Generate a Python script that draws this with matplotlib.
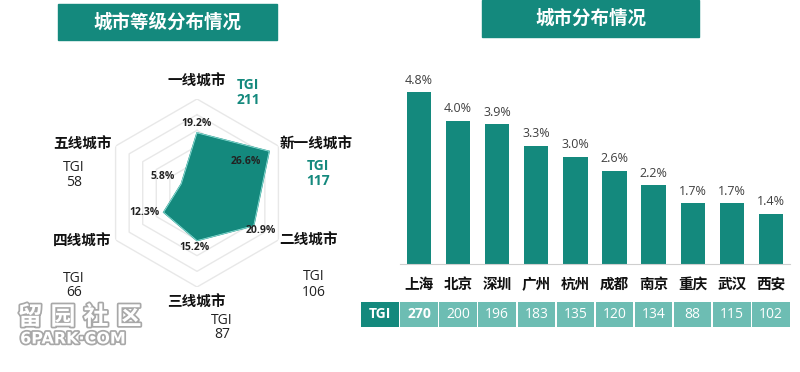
import numpy as np
import matplotlib
matplotlib.use("Agg")
from matplotlib import pyplot as plt
from matplotlib.patches import Rectangle
import matplotlib.patheffects as pe

plt.rcParams['font.family'] = ['Open Sans', 'Noto Sans CJK SC', 'DejaVu Sans']

# radar data: city tiers, share (%), TGI
tiers = ["一线城市", "新一线城市", "二线城市", "三线城市", "四线城市", "五线城市"]
tierShare = [19.2, 26.6, 20.9, 15.2, 12.3, 5.8]
tierTGI = [211, 117, 106, 87, 66, 58]

# bar data: top cities, share (%), TGI
cities = ["上海", "北京", "深圳", "广州", "杭州", "成都", "南京", "重庆", "武汉", "西安"]
cityShare = [4.8, 4.0, 3.9, 3.3, 3.0, 2.6, 2.2, 1.7, 1.7, 1.4]
cityTGI = [270, 200, 196, 183, 135, 120, 134, 88, 115, 102]

teal = "#14897d"
cellTeal = "#6dbdb3"
W, H = 800, 372

fig = plt.figure(figsize=(8, 3.72), dpi=100)

def fx(x):
    return x / W

def fy(y):
    return 1 - y / H

def banner(x0, x1, y0, y1, text):
    fig.patches.append(Rectangle((fx(x0), fy(y1)), fx(x1 - x0), (y1 - y0) / H,
                                 transform=fig.transFigure, color=teal, zorder=0))
    fig.text(fx((x0 + x1) / 2), fy((y0 + y1) / 2), text, color="white",
             fontsize=13.3, fontweight="bold", ha="center", va="center")

banner(58, 277, 4, 40, "城市等级分布情况")
banner(482, 699, 0, 37, "城市分布情况")

# ---- radar chart (left) ----
cx, cy, R = 197, 193, 94
rmax = 30
ax = fig.add_axes([fx(cx - R), fy(cy + R), 2 * R / W, 2 * R / H], projection="polar")
ax.set_theta_zero_location("N")
ax.set_theta_direction(-1)
ax.set_ylim(0, rmax)
ax.grid(False)
ax.set_xticks([])
ax.set_yticks([])
ax.spines["polar"].set_visible(False)
ax.patch.set_alpha(0)

theta = np.deg2rad(np.arange(0, 360, 60))
thetaClosed = np.append(theta, theta[0])
for lvl in range(5, rmax + 1, 5):
    ax.plot(thetaClosed, [lvl] * 7, color="#e8e8e8", lw=1, zorder=1)

shareClosed = np.append(tierShare, tierShare[0])
ax.fill(thetaClosed, shareClosed, color=teal, zorder=2)
ax.plot(thetaClosed, shareClosed, color="#8fe0d8", lw=0.6, zorder=3)

pctOffsets = [(0, 9), (-23, -10), (7, -5), (-2, -7), (-19, 0), (-19, 7)]
for t, v, off in zip(theta, tierShare, pctOffsets):
    ax.annotate("{:.1f}%".format(v), xy=(t, v), xytext=off,
                textcoords="offset pixels", ha="center", va="center",
                fontsize=7.5, fontweight="bold", color="#222222", zorder=4)

# tier names and TGI labels (pixel positions)
namePos = [(197, 82), (316, 145), (308, 241), (196, 303), (82, 242), (82, 145)]
tgiPos = [(248, 85), (318, 166), (314, 277), (222, 320), (74, 278), (74, 167)]
highlight = [True, True, False, False, False, False]
for name, tgi, npos, tpos, hl in zip(tiers, tierTGI, namePos, tgiPos, highlight):
    fig.text(fx(npos[0]), fy(npos[1]), name, fontsize=10.5, fontweight="bold",
             ha="center", va="center", color="#111111")
    col = teal if hl else "#222222"
    wt = "bold" if hl else "normal"
    fig.text(fx(tpos[0]), fy(tpos[1]), "TGI", fontsize=10, color=col,
             fontweight=wt, ha="center", va="center")
    fig.text(fx(tpos[0]), fy(tpos[1] + 15), str(tgi), fontsize=10, color=col,
             fontweight=wt, ha="center", va="center")

# ---- bar chart (right) ----
x0px, step = 419, 39.1
barLeft, barRight, base, top = 400, 790, 264, 60
bax = fig.add_axes([fx(barLeft), fy(base), (barRight - barLeft) / W, (base - top) / H])
pos = np.arange(len(cities))
bars = bax.bar(pos, cityShare, width=0.62, color=teal)
bax.bar_label(bars, labels=["{:.1f}%".format(v) for v in cityShare], padding=4,
              fontsize=9, color="#404040")
bax.set_xlim((barLeft - x0px) / step, (barRight - x0px) / step)
bax.set_ylim(0, (base - top) / 35.8)
for s in ["top", "right", "left"]:
    bax.spines[s].set_visible(False)
bax.spines["bottom"].set_color("#cfcfcf")
bax.set_yticks([])
bax.set_xticks(pos, cities)
bax.tick_params(axis="x", length=0, pad=10, labelsize=10.5)
for lbl in bax.get_xticklabels():
    lbl.set_fontweight("bold")
    lbl.set_color("#111111")
bax.patch.set_alpha(0)

# TGI table row
tLeft, tRight, tTop, tBot = 355, 795, 302, 327
tax = fig.add_axes([fx(tLeft), fy(tBot), (tRight - tLeft) / W, (tBot - tTop) / H])
tax.set_xlim((tLeft - x0px) / step, (tRight - x0px) / step)
tax.set_ylim(0, 1)
tax.axis("off")
tax.bar([-1], [1], width=0.97, color=teal)
tax.text(-1, 0.5, "TGI", color="white", fontsize=10, fontweight="bold",
         ha="center", va="center")
tax.bar(pos, [1] * len(pos), width=0.96, color=cellTeal)
for i, v in enumerate(cityTGI):
    tax.text(i, 0.5, str(v), color="white", fontsize=10,
             fontweight="bold" if i == 0 else "normal", ha="center", va="center")

# watermark
stroke = [pe.withStroke(linewidth=2.5, foreground="#a8a8a8")]
for i, ch in enumerate("留园社区"):
    fig.text(fx(30 + 33 * i), fy(318), ch, fontsize=18, color="white",
             fontweight="bold", ha="center", va="center", path_effects=stroke)
fig.text(fx(73), fy(339), "6PARK·COM", fontsize=11.5, color="white",
         family="DejaVu Sans", fontweight="bold", ha="center", va="center",
         path_effects=stroke)

fig.savefig("out.png", dpi=100)
